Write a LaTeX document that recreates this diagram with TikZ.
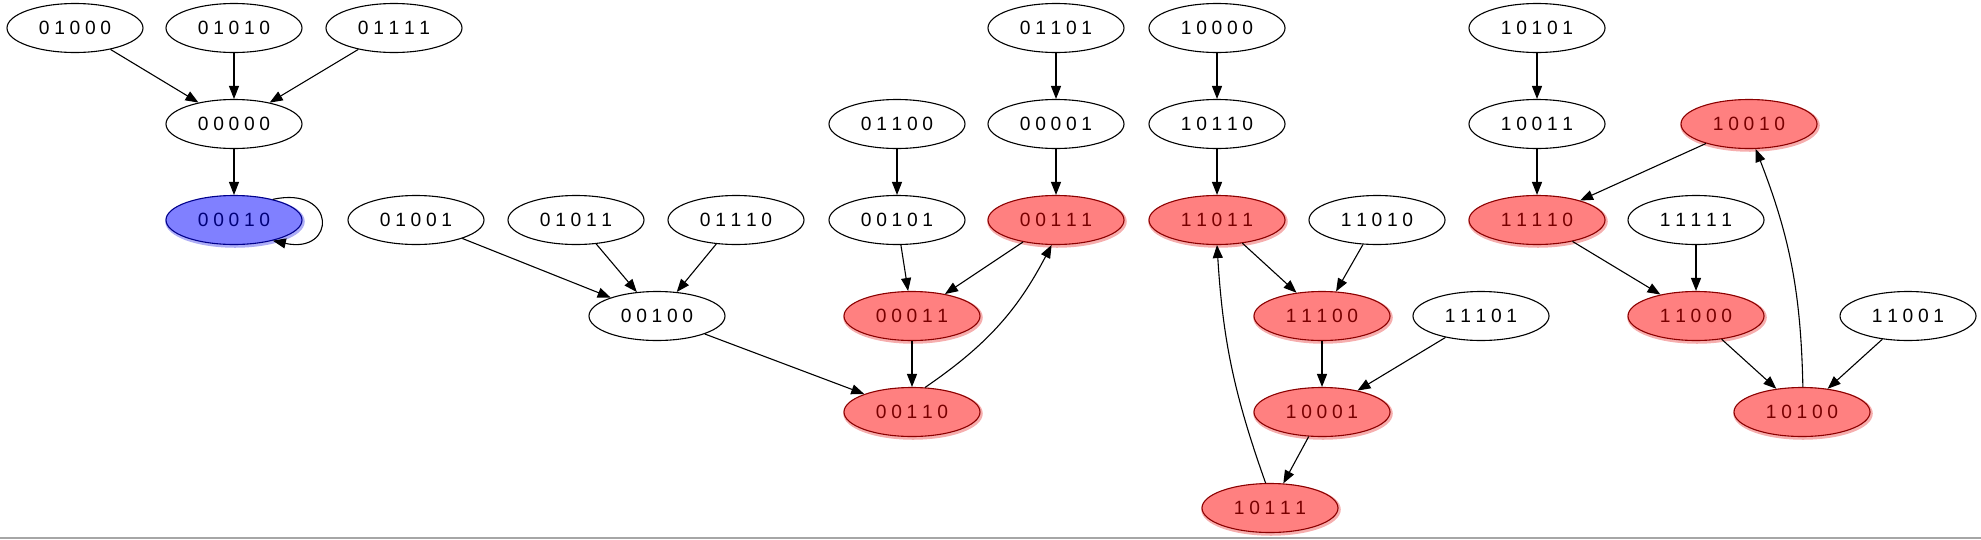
\documentclass[tikz,border=0pt]{standalone}
\usepackage{fontspec}
\setmainfont{Liberation Sans}
\usetikzlibrary{arrows.meta,shapes.geometric}
\newcommand\bits[5]{#1\kern4.7pt#2\kern4.7pt#3\kern4.7pt#4\kern4.7pt#5}
\definecolor{rfill}{RGB}{255,128,128}
\definecolor{rdraw}{RGB}{139,0,0}
\definecolor{rtext}{RGB}{120,0,0}
\definecolor{rglow}{RGB}{240,120,120}
\definecolor{bfill}{RGB}{128,128,255}
\definecolor{bdraw}{RGB}{0,0,139}
\definecolor{btext}{RGB}{0,0,120}
\definecolor{bglow}{RGB}{120,120,240}
\begin{document}
\begin{tikzpicture}[x=1pt,y=-1pt,
  st/.style={ellipse,draw=black,line width=1.1pt,minimum width=136pt,minimum height=49pt,inner sep=0pt,
    font=\fontsize{19.2}{20}\selectfont},
  rd/.style={st,fill=rfill,draw=rdraw,text=rtext,
    preaction={draw=rglow,line width=3.5pt,opacity=0.6,transform canvas={shift={(1pt,-1.5pt)}}}},
  bl/.style={st,fill=bfill,draw=bdraw,text=btext,
    preaction={draw=bglow,line width=3.5pt,opacity=0.6,transform canvas={shift={(1pt,-1.5pt)}}}},
  arr/.style={line width=1.1pt,-{Triangle[length=13pt,width=10pt]}}]
\useasboundingbox (0,0) rectangle (1981,539);
\draw[line width=2pt,color=black!35] (0,537.5) -- (1981,537.5);
% row 1
\node[st] (n01000) at (75,28) {\bits01000};
\node[st] (n01010) at (234,28) {\bits01010};
\node[st] (n01111) at (394,28) {\bits01111};
\node[st] (n01101) at (1056,28) {\bits01101};
\node[st] (n10000) at (1217,28) {\bits10000};
\node[st] (n10101) at (1537,28) {\bits10101};
% row 2
\node[st] (n00000) at (234,124) {\bits00000};
\node[st] (n01100) at (897,124) {\bits01100};
\node[st] (n00001) at (1056,124) {\bits00001};
\node[st] (n10110) at (1217,124) {\bits10110};
\node[st] (n10011) at (1537,124) {\bits10011};
\node[rd] (n10010) at (1749,124) {\bits10010};
% row 3
\node[bl] (n00010) at (234,220) {\bits00010};
\node[st] (n01001) at (416,220) {\bits01001};
\node[st] (n01011) at (576,220) {\bits01011};
\node[st] (n01110) at (736,220) {\bits01110};
\node[st] (n00101) at (897,220) {\bits00101};
\node[rd] (n00111) at (1056,220) {\bits00111};
\node[rd] (n11011) at (1217,220) {\bits11011};
\node[st] (n11010) at (1377,220) {\bits11010};
\node[rd] (n11110) at (1537,220) {\bits11110};
\node[st] (n11111) at (1696,220) {\bits11111};
% row 4
\node[st] (n00100) at (657,316) {\bits00100};
\node[rd] (n00011) at (912,316) {\bits00011};
\node[rd] (n11100) at (1322,316) {\bits11100};
\node[st] (n11101) at (1481,316) {\bits11101};
\node[rd] (n11000) at (1696,316) {\bits11000};
\node[st] (n11001) at (1908,316) {\bits11001};
% row 5
\node[rd] (n00110) at (912,412) {\bits00110};
\node[rd] (n10001) at (1322,412) {\bits10001};
\node[rd] (n10100) at (1802,412) {\bits10100};
% row 6
\node[rd] (n10111) at (1270,508) {\bits10111};
% edges
\draw[arr] (n01000) -- (n00000);
\draw[arr] (n01010) -- (n00000);
\draw[arr] (n01111) -- (n00000);
\draw[arr] (n00000) -- (n00010);
\draw[arr] (n00010.28) .. controls +(64,-14) and +(64,14) .. (n00010.-28);
\draw[arr] (n01001) -- (n00100);
\draw[arr] (n01011) -- (n00100);
\draw[arr] (n01110) -- (n00100);
\draw[arr] (n00100) -- (n00110);
\draw[arr] (n01100) -- (n00101);
\draw[arr] (n00101) -- (n00011);
\draw[arr] (n01101) -- (n00001);
\draw[arr] (n00001) -- (n00111);
\draw[arr] (n00111) -- (n00011);
\draw[arr] (n00011) -- (n00110);
\draw[arr] (n00110.62) to[bend right=14] (n00111.-100);
\draw[arr] (n10000) -- (n10110);
\draw[arr] (n10110) -- (n11011);
\draw[arr] (n11011) -- (n11100);
\draw[arr] (n11010) -- (n11100);
\draw[arr] (n11100) -- (n10001);
\draw[arr] (n11101) -- (n10001);
\draw[arr] (n10001) -- (n10111);
\draw[arr] (n10111.100) to[bend left=8] (n11011.-90);
\draw[arr] (n10101) -- (n10011);
\draw[arr] (n10011) -- (n11110);
\draw[arr] (n10010) -- (n11110);
\draw[arr] (n11110) -- (n11000);
\draw[arr] (n11111) -- (n11000);
\draw[arr] (n11000) -- (n10100);
\draw[arr] (n11001) -- (n10100);
\draw[arr] (n10100.88) to[bend right=10] (n10010.-75);
\end{tikzpicture}
\end{document}
